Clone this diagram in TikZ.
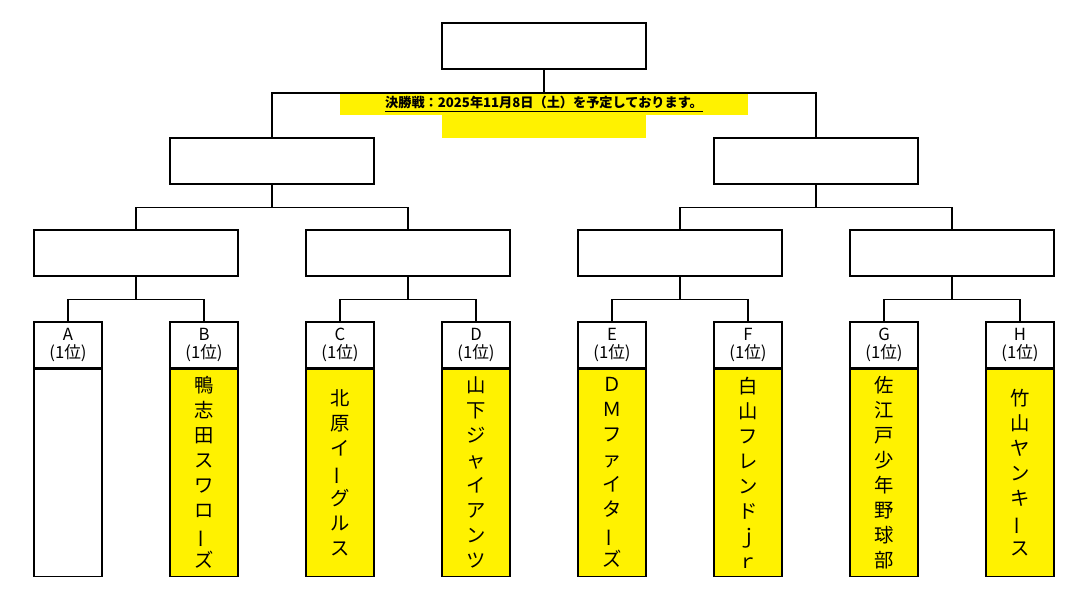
\documentclass[tikz,border=0pt]{standalone}
\usepackage{fontspec}
\usepackage{graphicx}
\setmainfont{Noto Sans CJK JP}
\usetikzlibrary{positioning}
\newcommand{\chobar}{\rotatebox[origin=c]{90}{ー}}
\tikzset{
    slot/.style={draw,line width=0.6pt,minimum width=204*0.02cm,minimum height=46*0.02cm,inner sep=0pt},
    head/.style={draw,line width=0.6pt,minimum width=68*0.02cm,minimum height=46*0.02cm,inner sep=0pt,align=center,font=\fontsize{9.5}{10}\selectfont},
    team/.style={draw,line width=0.6pt,minimum width=68*0.02cm,minimum height=207*0.02cm,inner sep=0pt,anchor=north,align=center,font=\fontsize{11}{14.2}\selectfont},
    link/.style={line width=0.6pt},
}
\begin{document}
\begin{tikzpicture}[x=0.02cm,y=-0.02cm]
    \useasboundingbox (0,0) rectangle (1090,600);
    % yellow strips
    \fill[yellow] (340,93) rectangle (748,115);
    \fill[yellow] (442,115) rectangle (646,138);
    \node[font=\bfseries\fontsize{7.5}{8}\selectfont] (note) at (544,104) {\underline{決勝戦：2025年11月8日（土）を予定しております。}};
    % final and semis
    \node[slot,line width=1.5pt] (final) at (544,46) {};
    \node[slot] (semiL) at (272,161) {};
    \node[slot] (semiR) at (816,161) {};
    \draw[link] (final.south) -- (544,93) coordinate (fj);
    \draw[link] (semiL.north) |- (fj) -| (semiR.north);
    % quarters
    \foreach \q/\x/\s in {qa/136/semiL,qb/408/semiL,qc/680/semiR,qd/952/semiR}{
        \node[slot] (\q) at (\x,253) {};
        \draw[link] (\s.south) -- ++(0,23) -| (\q.north);
    }
    % teams
    \foreach \t/\x/\q/\fillc/\name in {
        A/68/qa/white/{},
        B/204/qa/yellow/{鴨\\志\\田\\ス\\ワ\\ロ\\\chobar\\ズ},
        C/340/qb/yellow/{北\\原\\イ\\\chobar\\グ\\ル\\ス},
        D/476/qb/yellow/{山\\下\\ジ\\ャ\\イ\\ア\\ン\\ツ},
        E/612/qc/yellow/{Ｄ\\Ｍ\\フ\\ァ\\イ\\タ\\\chobar\\ズ},
        F/748/qc/yellow/{白\\山\\フ\\レ\\ン\\ド\\ｊ\\ｒ},
        G/884/qd/yellow/{佐\\江\\戸\\少\\年\\野\\球\\部},
        H/1020/qd/yellow/{竹\\山\\ヤ\\ン\\キ\\\chobar\\ス}}{
        \node[head] (h\t) at (\x,345) {\t\\(1位)};
        \node[team,fill=\fillc] (n\t) at (h\t.south) {\name};
        \draw[link] (\q.south) -- ++(0,23) -| (h\t.north);
    }
\end{tikzpicture}
\end{document}
